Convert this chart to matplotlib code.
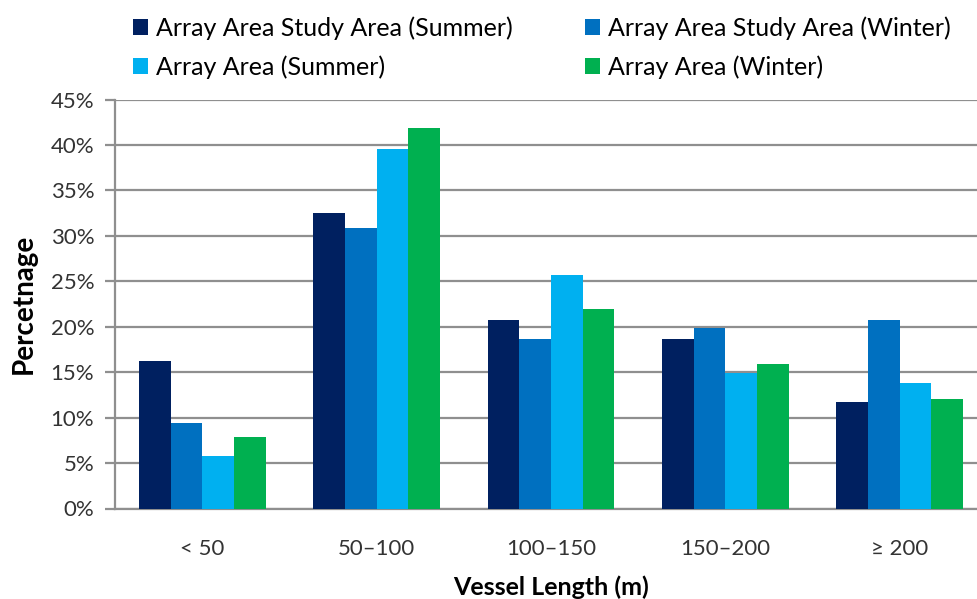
import numpy as np
import matplotlib
matplotlib.use("Agg")
import matplotlib.pyplot as plt
from matplotlib.ticker import FuncFormatter

plt.rcParams['font.family'] = ['Lato', 'DejaVu Sans']

categories = ['< 50', '50–100', '100–150', '150–200', '≥ 200']
series_names = ['Array Area Study Area (Summer)', 'Array Area Study Area (Winter)',
                'Array Area (Summer)', 'Array Area (Winter)']
study_summer = [16.2, 32.5, 20.7, 18.6, 11.7]
study_winter = [9.4, 30.9, 18.7, 19.9, 20.7]
array_summer = [5.8, 39.5, 25.7, 14.9, 13.8]
array_winter = [7.9, 41.9, 22.0, 15.9, 12.0]
colors = ['#002060', '#0070C0', '#00B0F0', '#00B050']

series = [study_summer, study_winter, array_summer, array_winter]

fig = plt.figure(figsize=(9.78, 5.99), dpi=100)
ax = fig.add_axes([115 / 978, 1 - 508.5 / 599, 872 / 978, 409 / 599])

x = np.arange(len(categories))
w = 0.1815
bars = []
for i, (vals, name, c) in enumerate(zip(series, series_names, colors)):
    b = ax.bar(x + (i - 1.5) * w, vals, width=w, color=c, label=name, zorder=3)
    bars.append(b)

ax.set_xlim(-0.5, len(categories) - 0.5)
ax.set_ylim(0, 45)
ax.set_yticks(np.arange(0, 46, 5))
ax.yaxis.set_major_formatter(FuncFormatter(lambda v, p: f'{int(v)}%'))
ax.grid(axis='y', color='#8f8f8f', linewidth=1.6, zorder=0)
ax.set_xticks(x)
ax.set_xticklabels(categories)
ax.tick_params(axis='x', length=0, pad=22, labelsize=16, colors='#333333')
ax.tick_params(axis='y', length=7, width=1.6, color='#8f8f8f', pad=8, labelsize=16, labelcolor='#333333')
for s in ['top', 'right']:
    ax.spines[s].set_visible(False)
for s in ['left', 'bottom']:
    ax.spines[s].set_color('#8f8f8f')
    ax.spines[s].set_linewidth(1.6)

ax.set_ylabel('Percetnage', fontsize=20, fontweight='bold', labelpad=10)
ax.set_xlabel('Vessel Length (m)', fontsize=18, fontweight='bold', labelpad=12)

# row-major legend order: matplotlib fills columns first
order = [0, 2, 1, 3]
fig.legend([bars[i] for i in order], [series_names[i] for i in order],
           loc='upper left', bbox_to_anchor=(110 / 978, 1.011), ncol=2, frameon=False,
           fontsize=18, handlelength=0.62, handleheight=0.62, handletextpad=0.3,
           columnspacing=2.9, labelspacing=0.62)

fig.savefig('out.png', dpi=100)
